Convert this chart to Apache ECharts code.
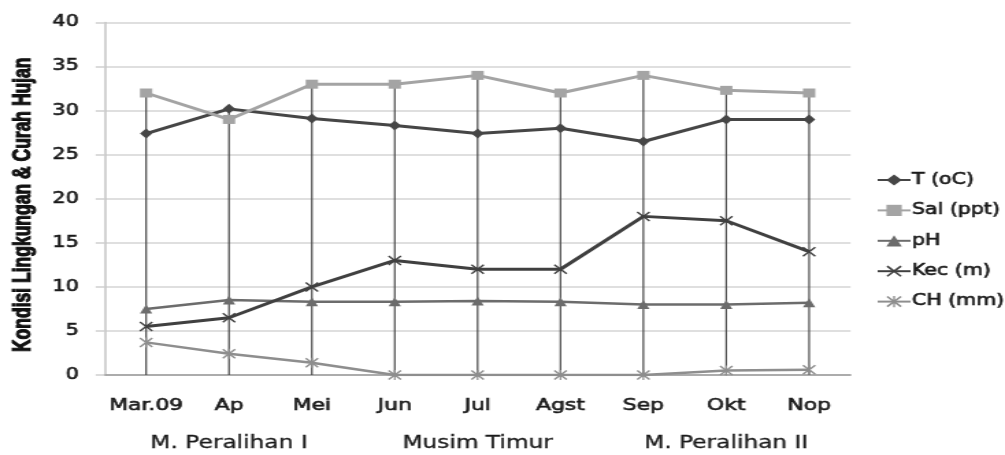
<!DOCTYPE html>
<html>
<head>
<meta charset="utf-8">
<script src="https://cdn.jsdelivr.net/npm/echarts@6/dist/echarts.min.js"></script>
<style>
  html, body { margin: 0; padding: 0; background: #fff; overflow: hidden; }
  /* the chart is laid out at a narrower width and widened to fill the page */
  #chart { width: 734px; height: 455px; transform: scaleX(1.3692); transform-origin: 0 0; }
</style>
</head>
<body>
<div id="chart"></div>
<script>
// Months of observation and the season each group belongs to
const months = ['Mar.09', 'Ap', 'Mei', 'Jun', 'Jul', 'Agst', 'Sep', 'Okt', 'Nop'];
const seasons = ['', 'M. Peralihan I', '', '', 'Musim Timur', '', '', 'M. Peralihan II', ''];

// Environmental conditions and rainfall per month
const suhu = [27.4, 30.2, 29.1, 28.3, 27.4, 28.0, 26.5, 29.0, 29.0];      // T (oC)
const salinitas = [32, 29, 33, 33, 34, 32, 34, 32.3, 32];                // Sal (ppt)
const ph = [7.5, 8.5, 8.3, 8.3, 8.4, 8.3, 8.0, 8.0, 8.2];                // pH
const kecerahan = [5.5, 6.5, 10, 13, 12, 12, 18, 17.5, 14];              // Kec (m)
const curahHujan = [3.7, 2.4, 1.4, 0, 0, 0, 0, 0.5, 0.6];                // CH (mm)

const yTicks = { min: 0, max: 40, interval: 5 };

const seriesDefs = [
  { name: 'T (oC)', data: suhu, color: '#464646', symbol: 'diamond', size: [9, 10], width: 3 },
  { name: 'Sal (ppt)', data: salinitas, color: '#a4a4a4', symbol: 'rect', size: [9, 9], width: 3 },
  { name: 'pH', data: ph, color: '#6c6c6c', symbol: 'triangle', size: [9, 9], width: 2.5 },
  { name: 'Kec (m)', data: kecerahan, color: '#404040', width: 3, size: [10, 10],
    symbol: 'path://M0,1L1,0L5,4L9,0L10,1L6,5L10,9L9,10L5,6L1,10L0,9L4,5Z' },
  { name: 'CH (mm)', data: curahHujan, color: '#8e8e8e', width: 2.5, size: [10, 10],
    symbol: 'path://M0,1L1,0L5,4L9,0L10,1L6,5L10,9L9,10L5,6L1,10L0,9L4,5Z M4.4,0L5.6,0L5.6,10L4.4,10Z' }
];

// drop lines run from the highest value of each month down to the axis
const dropTops = months.map((_, i) => [i, Math.max(...seriesDefs.map(s => s.data[i]))]);

const chart = echarts.init(document.getElementById('chart'), null, { renderer: 'canvas' });

// a thin outline in the text colour gives the labels a semi-bold weight
const labelFont = { fontFamily: 'DejaVu Sans', color: '#1a1a1a', textBorderColor: '#1a1a1a', textBorderWidth: 0.6 };

chart.setOption({
  animation: false,
  backgroundColor: '#ffffff',
  grid: { left: 72.3, right: 112.8, top: 22.5, bottom: 80 },
  legend: {
    orient: 'vertical',
    left: 635,
    top: 167,
    itemWidth: 24,
    itemHeight: 14,
    itemGap: 14.4,
    data: seriesDefs.map(s => s.name),
    textStyle: Object.assign({ fontSize: 15, lineHeight: 16, padding: [0, 0, 0, -4] }, labelFont)
  },
  xAxis: [
    {
      type: 'category',
      data: months,
      position: 'bottom',
      axisLine: { show: true, lineStyle: { color: '#9c9c9c', width: 1.5 } },
      axisTick: { show: false },
      splitLine: { show: false },
      axisLabel: Object.assign({ interval: 0, margin: 23, fontSize: 16 }, labelFont)
    },
    {
      type: 'category',
      data: seasons,
      position: 'bottom',
      axisLine: { show: false },
      axisTick: { show: false },
      splitLine: { show: false },
      axisLabel: Object.assign({ interval: 0, margin: 60, fontSize: 17 }, labelFont, { textBorderWidth: 0.3 })
    }
  ],
  yAxis: {
    type: 'value',
    min: yTicks.min,
    max: yTicks.max,
    interval: yTicks.interval,
    name: 'Kondisi Lingkungan & Curah Hujan',
    nameLocation: 'middle',
    nameGap: 50,
    nameTextStyle: {
      fontFamily: 'Liberation Sans', fontSize: 17.5, fontWeight: 'bold', color: '#111',
      textBorderColor: '#111', textBorderWidth: 0.9, padding: [0, 12, 0, 0]
    },
    axisLine: { show: true, lineStyle: { color: '#c4c4c4', width: 1.5 } },
    axisTick: { show: true, length: 6.6, lineStyle: { color: '#cfcfcf', width: 1.5 } },
    splitLine: { show: true, lineStyle: { color: '#d4d4d4', width: 1.5 } },
    axisLabel: Object.assign({ margin: 19, fontSize: 15 }, labelFont)
  },
  series: [
    {
      type: 'custom',
      name: 'drop',
      silent: true,
      z: 1,
      data: dropTops,
      renderItem: function (params, api) {
        const top = api.coord([api.value(0), api.value(1)]);
        const bottom = api.coord([api.value(0), 0]);
        return {
          type: 'line',
          shape: { x1: top[0], y1: top[1], x2: bottom[0], y2: bottom[1] },
          style: { stroke: '#4a4a4a', lineWidth: 1.2 }
        };
      }
    }
  ].concat(seriesDefs.map(s => ({
    type: 'line',
    name: s.name,
    data: s.data,
    z: 3,
    symbol: s.symbol,
    symbolSize: s.size,
    showAllSymbol: true,
    lineStyle: { color: s.color, width: s.width },
    itemStyle: { color: s.color, borderWidth: 0 }
  })))
});
</script>
</body>
</html>
